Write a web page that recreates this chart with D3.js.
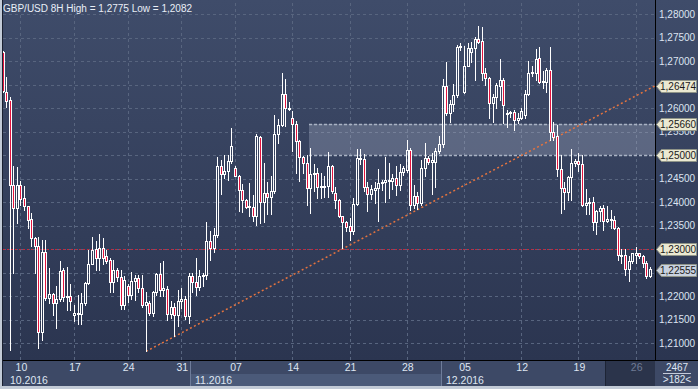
<!DOCTYPE html>
<html>
<head>
<meta charset="utf-8">
<script src="https://cdn.jsdelivr.net/npm/d3@7"></script>
<style>
  body { margin: 0; background: #2e3853; }
  svg { display: block; font-family: "Liberation Sans", Arial, sans-serif; }
</style>
</head>
<body>
<svg id="chart"></svg>
<script>
// GBP/USD 8H candles
const opens = [
  1.2720,1.2635,1.2617,1.2437,1.2387,1.2437,1.2409,1.2392,1.2364,1.2324,
  1.2306,1.2124,1.2294,1.2196,1.2205,1.2185,1.2194,1.2256,1.2198,1.2200,
  1.2160,1.2165,1.2163,1.2185,1.2228,1.2269,1.2301,1.2281,1.2302,1.2285,
  1.2277,1.2230,1.2255,1.2241,1.2181,1.2221,1.2203,1.2232,1.2239,1.2218,
  1.2181,1.2186,1.2164,1.2209,1.2248,1.2214,1.2215,1.2163,1.2177,1.2161,
  1.2189,1.2194,1.2157,1.2244,1.2230,1.2220,1.2244,1.2246,1.2318,1.2302,
  1.2331,1.2477,1.2460,1.2467,1.2487,1.2472,1.2456,1.2425,1.2404,1.2390,
  1.2390,1.2371,1.2538,1.2401,1.2420,1.2412,1.2423,1.2544,1.2564,1.2630,
  1.2600,1.2579,1.2566,1.2529,1.2496,1.2484,1.2430,1.2460,1.2462,1.2432,
  1.2435,1.2435,1.2477,1.2420,1.2405,1.2371,1.2357,1.2350,1.2338,1.2396,
  1.2493,1.2491,1.2432,1.2418,1.2425,1.2430,1.2440,1.2442,1.2447,1.2446,
  1.2451,1.2437,1.2465,1.2468,1.2511,1.2394,1.2413,1.2399,1.2472,1.2493,
  1.2486,1.2486,1.2508,1.2524,1.2647,1.2590,1.2609,1.2628,1.2729,1.2635,
  1.2690,1.2720,1.2727,1.2746,1.2743,1.2675,1.2665,1.2610,1.2624,1.2647,
  1.2660,1.2588,1.2590,1.2591,1.2575,1.2579,1.2585,1.2630,1.2675,1.2675,
  1.2706,1.2656,1.2656,1.2682,1.2550,1.2541,1.2470,1.2430,1.2421,1.2453,
  1.2484,1.2488,1.2481,1.2394,1.2399,1.2400,1.2357,1.2382,1.2388,1.2361,
  1.2364,1.2362,1.2345,1.2288,1.2288,1.2258,1.2276,1.2287,1.2292,1.2286,
  1.2270,1.2243
];
const highs = [
  1.2722,1.2667,1.2624,1.2477,1.2475,1.2446,1.2434,1.2392,1.2378,1.2327,
  1.2327,1.2320,1.2320,1.2260,1.2207,1.2221,1.2274,1.2260,1.2263,1.2226,
  1.2182,1.2203,1.2206,1.2230,1.2299,1.2327,1.2317,1.2333,1.2323,1.2299,
  1.2281,1.2277,1.2260,1.2256,1.2244,1.2225,1.2251,1.2246,1.2246,1.2246,
  1.2208,1.2189,1.2212,1.2249,1.2271,1.2274,1.2221,1.2189,1.2186,1.2214,
  1.2217,1.2200,1.2249,1.2249,1.2281,1.2256,1.2249,1.2357,1.2338,1.2345,
  1.2497,1.2490,1.2501,1.2501,1.2557,1.2476,1.2458,1.2439,1.2406,1.2440,
  1.2416,1.2545,1.2541,1.2483,1.2442,1.2456,1.2585,1.2577,1.2674,1.2661,
  1.2613,1.2594,1.2573,1.2532,1.2498,1.2501,1.2515,1.2481,1.2472,1.2463,
  1.2456,1.2506,1.2479,1.2432,1.2406,1.2371,1.2359,1.2366,1.2408,1.2513,
  1.2513,1.2503,1.2442,1.2437,1.2442,1.2470,1.2447,1.2496,1.2484,1.2460,
  1.2477,1.2481,1.2477,1.2532,1.2515,1.2437,1.2422,1.2490,1.2525,1.2498,
  1.2505,1.2515,1.2541,1.2661,1.2699,1.2617,1.2651,1.2734,1.2739,1.2731,
  1.2739,1.2741,1.2752,1.2775,1.2773,1.2685,1.2667,1.2630,1.2653,1.2704,
  1.2665,1.2596,1.2593,1.2596,1.2590,1.2600,1.2639,1.2701,1.2689,1.2725,
  1.2729,1.2678,1.2685,1.2729,1.2571,1.2564,1.2500,1.2442,1.2455,1.2513,
  1.2491,1.2504,1.2500,1.2428,1.2408,1.2412,1.2384,1.2392,1.2395,1.2392,
  1.2384,1.2370,1.2348,1.2300,1.2300,1.2285,1.2293,1.2304,1.2293,1.2288,
  1.2274,1.2262
];
const lows = [
  1.2634,1.2603,1.2086,1.2249,1.2355,1.2395,1.2384,1.2345,1.2306,1.2249,
  1.2090,1.2108,1.2193,1.2185,1.2161,1.2132,1.2189,1.2189,1.2170,1.2171,
  1.2147,1.2140,1.2140,1.2181,1.2225,1.2269,1.2256,1.2256,1.2269,1.2271,
  1.2210,1.2210,1.2232,1.2173,1.2173,1.2187,1.2194,1.2193,1.2210,1.2178,
  1.2083,1.2161,1.2157,1.2203,1.2201,1.2200,1.2150,1.2154,1.2115,1.2136,
  1.2175,1.2151,1.2143,1.2210,1.2203,1.2214,1.2221,1.2236,1.2278,1.2295,
  1.2327,1.2418,1.2451,1.2448,1.2483,1.2455,1.2382,1.2380,1.2387,1.2370,
  1.2359,1.2352,1.2356,1.2357,1.2375,1.2375,1.2419,1.2526,1.2561,1.2561,
  1.2595,1.2508,1.2463,1.2444,1.2463,1.2393,1.2378,1.2423,1.2409,1.2409,
  1.2411,1.2412,1.2419,1.2387,1.2368,1.2302,1.2338,1.2320,1.2333,1.2394,
  1.2481,1.2423,1.2382,1.2406,1.2398,1.2361,1.2426,1.2401,1.2408,1.2428,
  1.2416,1.2425,1.2458,1.2465,1.2384,1.2387,1.2385,1.2394,1.2456,1.2481,
  1.2418,1.2432,1.2504,1.2518,1.2585,1.2571,1.2593,1.2624,1.2724,1.2632,
  1.2689,1.2699,1.2660,1.2738,1.2660,1.2649,1.2578,1.2571,1.2600,1.2618,
  1.2569,1.2559,1.2581,1.2554,1.2569,1.2576,1.2578,1.2628,1.2668,1.2660,
  1.2653,1.2642,1.2635,1.2532,1.2532,1.2455,1.2377,1.2385,1.2405,1.2404,
  1.2477,1.2467,1.2392,1.2375,1.2375,1.2340,1.2333,1.2360,1.2341,1.2357,
  1.2345,1.2343,1.2278,1.2270,1.2246,1.2232,1.2270,1.2270,1.2281,1.2263,
  1.2238,1.2240
];
const closes = [
  1.2636,1.2614,1.2437,1.2387,1.2437,1.2407,1.2391,1.2362,1.2324,1.2306,
  1.2124,1.2294,1.2196,1.2205,1.2185,1.2194,1.2254,1.2198,1.2200,1.2189,
  1.2165,1.2163,1.2185,1.2228,1.2269,1.2299,1.2281,1.2302,1.2281,1.2275,
  1.2230,1.2255,1.2240,1.2181,1.2234,1.2203,1.2232,1.2239,1.2218,1.2181,
  1.2188,1.2164,1.2209,1.2248,1.2214,1.2218,1.2163,1.2177,1.2161,1.2189,
  1.2194,1.2157,1.2244,1.2230,1.2220,1.2244,1.2246,1.2318,1.2302,1.2331,
  1.2476,1.2460,1.2467,1.2487,1.2520,1.2455,1.2425,1.2404,1.2389,1.2392,
  1.2371,1.2541,1.2401,1.2420,1.2412,1.2423,1.2544,1.2564,1.2630,1.2600,
  1.2600,1.2566,1.2529,1.2496,1.2484,1.2430,1.2460,1.2462,1.2432,1.2435,
  1.2435,1.2477,1.2423,1.2405,1.2370,1.2357,1.2347,1.2338,1.2396,1.2493,
  1.2492,1.2432,1.2418,1.2428,1.2430,1.2440,1.2442,1.2447,1.2446,1.2451,
  1.2437,1.2465,1.2472,1.2511,1.2394,1.2413,1.2399,1.2472,1.2493,1.2486,
  1.2489,1.2508,1.2524,1.2647,1.2590,1.2609,1.2628,1.2729,1.2731,1.2690,
  1.2727,1.2727,1.2746,1.2741,1.2675,1.2663,1.2610,1.2624,1.2649,1.2660,
  1.2607,1.2590,1.2592,1.2575,1.2579,1.2593,1.2630,1.2675,1.2677,1.2704,
  1.2656,1.2658,1.2681,1.2550,1.2539,1.2470,1.2430,1.2421,1.2453,1.2484,
  1.2488,1.2481,1.2394,1.2399,1.2400,1.2357,1.2382,1.2388,1.2361,1.2364,
  1.2362,1.2345,1.2288,1.2285,1.2258,1.2276,1.2292,1.2292,1.2286,1.2270,
  1.2243,1.2257
];

const priceTicks = [1.21,1.215,1.22,1.225,1.23,1.235,1.24,1.245,1.25,1.255,1.26,1.265,1.27,1.275,1.28];
const weekIdx = [5,20,35,50,65,81,97,113,129,145,161,177];
const weekLabels = ['10','17','24','31','07','14','21','28','05','12','19','26'];
const monthStart = [0,53,123];
const monthLabels = ['10.2016','11.2016','12.2016'];

const zoneTop = 1.2566, zoneBottom = 1.25, zoneFrom = 86;
const redLevel = 1.23;
const trendFrom = [40, 1.2083], trendTo = [182.3, 1.26474];
const tagValues = [1.26474, 1.2566, 1.25, 1.23];
const lastPrice = 1.22555;

const W = 698, H = 389;
const plotL = 3, plotR = 655, plotT = 3, plotB = 360;
const n = closes.length;

const svg = d3.select('#chart').attr('width', W).attr('height', H);
const fmt = d => d3.format('.5f')(d).replace('.', ',');

const x = d3.scaleLinear().domain([0, n - 1]).range([3, 650.5]);
const y = d3.scaleLinear().domain([1.21, 1.28]).range([343.3, 14]);

const defs = svg.append('defs');
const grad = defs.append('linearGradient').attr('id', 'bg')
  .attr('x1', 0).attr('y1', 0).attr('x2', 0).attr('y2', 1);
grad.append('stop').attr('offset', '0%').attr('stop-color', '#3f4c6a');
grad.append('stop').attr('offset', '100%').attr('stop-color', '#2b3550');
defs.append('clipPath').attr('id', 'clip').append('rect')
  .attr('x', plotL).attr('y', plotT).attr('width', plotR - plotL).attr('height', plotB - plotT);

svg.append('rect').attr('width', W).attr('height', plotB).attr('fill', 'url(#bg)');

// grid
const grid = svg.append('g').attr('stroke', '#58657f').attr('stroke-dasharray', '3,3');
grid.selectAll('.h').data(priceTicks).join('line')
  .attr('x1', plotL).attr('x2', plotR)
  .attr('y1', d => Math.round(y(d)) + 0.5).attr('y2', d => Math.round(y(d)) + 0.5);
grid.selectAll('.v').data(weekIdx).join('line')
  .attr('y1', plotT).attr('y2', plotB)
  .attr('x1', d => Math.floor(x(d)) + 0.5).attr('x2', d => Math.floor(x(d)) + 0.5);

const plot = svg.append('g').attr('clip-path', 'url(#clip)');

// resistance zone
const zx = Math.floor(x(zoneFrom)) - 1;
plot.append('rect')
  .attr('x', zx).attr('y', Math.round(y(zoneTop)))
  .attr('width', plotR - zx).attr('height', Math.round(y(zoneBottom)) - Math.round(y(zoneTop)))
  .attr('fill', 'rgba(200,210,228,0.26)');
plot.selectAll('.zl').data([zoneTop, zoneBottom]).join('line')
  .attr('x1', zx).attr('x2', plotR)
  .attr('y1', d => Math.round(y(d)) + 0.5).attr('y2', d => Math.round(y(d)) + 0.5)
  .attr('stroke', '#a9b2c4').attr('stroke-width', 1.5).attr('stroke-dasharray', '3,2');

// 1.23 level
plot.append('line')
  .attr('x1', plotL).attr('x2', plotR)
  .attr('y1', Math.round(y(redLevel)) + 0.5).attr('y2', Math.round(y(redLevel)) + 0.5)
  .attr('stroke', '#c4283e').attr('stroke-dasharray', '2,2');

// trend line
plot.append('line')
  .attr('x1', x(trendFrom[0])).attr('y1', y(trendFrom[1]))
  .attr('x2', x(trendTo[0])).attr('y2', y(trendTo[1]))
  .attr('stroke', '#e4733f').attr('stroke-width', 1.5).attr('stroke-dasharray', '2,2.5');

// candles
const cg = plot.selectAll('.c').data(d3.range(n)).join('g');
cg.each(function (i) {
  const g = d3.select(this);
  const px = Math.floor(x(i));
  const top = Math.round(y(Math.max(opens[i], closes[i])));
  const bot = Math.max(Math.round(y(Math.min(opens[i], closes[i]))), top + 1);
  const hi = Math.round(y(highs[i])), lo = Math.round(y(lows[i]));
  const down = closes[i] < opens[i];
  if (hi < top) g.append('line').attr('x1', px + 0.5).attr('x2', px + 0.5).attr('y1', hi).attr('y2', top).attr('stroke', '#fff');
  if (lo > bot) g.append('line').attr('x1', px + 0.5).attr('x2', px + 0.5).attr('y1', bot).attr('y2', lo + 1).attr('stroke', '#fff');
  g.append('rect')
    .attr('x', px - 0.5).attr('y', top + 0.5)
    .attr('width', 2).attr('height', bot - top)
    .attr('fill', down ? '#e3143e' : 'none')
    .attr('stroke', '#fff').attr('stroke-width', 1);
});

// title
svg.append('text').attr('x', 3).attr('y', 12)
  .attr('fill', '#e9eef7').attr('font-size', 10)
  .text('GBP/USD 8H High = 1,2775 Low = 1,2082');

// right price axis; labels fully hidden under a price tag are left out
const allTags = tagValues.concat([lastPrice]);
const shownTicks = priceTicks.filter(t => allTags.every(v => Math.abs(y(t) - y(v)) > 5));
svg.append('line').attr('x1', plotR + 0.5).attr('x2', plotR + 0.5).attr('y1', 0).attr('y2', H - 3)
  .attr('stroke', '#000');
const ya = svg.append('g').attr('transform', `translate(${plotR + 1},0)`)
  .call(d3.axisRight(y).tickValues(shownTicks).tickSize(0).tickPadding(3).tickFormat(fmt));
ya.select('.domain').remove();
ya.selectAll('text').attr('fill', '#dce4f1').attr('font-size', 10)
  .attr('font-family', '"Liberation Sans", Arial, sans-serif');

// price tags
function tag(v, fill) {
  const ty = Math.round(y(v)) + 0.5;
  svg.append('path')
    .attr('d', `M${plotR + 1.5},${ty} L${plotR + 6.5},${ty - 6} L696.5,${ty - 6} L696.5,${ty + 6} L${plotR + 6.5},${ty + 6} Z`)
    .attr('fill', fill).attr('stroke', '#8f9488');
  svg.append('text').attr('x', plotR + 5).attr('y', ty + 3.6)
    .attr('font-size', 10).attr('fill', '#1a1a1a').text(fmt(v));
}
tagValues.forEach(v => tag(v, '#ebe9d2'));
tag(lastPrice, '#c9d2e0');

// time axis background
const ax = svg.append('g');
ax.append('rect').attr('x', 0).attr('y', plotB).attr('width', W).attr('height', H - plotB).attr('fill', '#3d4966');
const bounds = monthStart.map((m, k) => k === 0 ? plotL : Math.floor(x(m - 0.5)));
bounds.forEach((b, k) => {
  const e = k < bounds.length - 1 ? bounds[k + 1] : plotR;
  if (k % 2 === 1) {
    ax.append('rect').attr('x', b).attr('y', 374).attr('width', e - b).attr('height', 12).attr('fill', '#4b5a79');
  }
  if (k > 0) {
    ax.append('line').attr('x1', b + 0.5).attr('x2', b + 0.5).attr('y1', plotB).attr('y2', 386)
      .attr('stroke', '#6e7c9a');
  }
  ax.append('text').attr('x', Math.max(b, plotL) + (k === 0 ? 7 : 5)).attr('y', 383.5)
    .attr('fill', '#dfe6f2').attr('font-size', 10.5).text(monthLabels[k]);
});
const dark = Math.floor(x(168.5));
ax.append('rect').attr('x', dark).attr('y', plotB).attr('width', plotR - dark).attr('height', 26).attr('fill', '#2b344b');
ax.append('line').attr('x1', dark + 0.5).attr('x2', dark + 0.5).attr('y1', plotB).attr('y2', 386).attr('stroke', '#1d2435');

const xa = ax.append('g').attr('transform', `translate(0,${plotB})`)
  .call(d3.axisBottom(x).tickValues(weekIdx).tickSize(0).tickPadding(4).tickFormat((d, k) => weekLabels[k]));
xa.select('.domain').remove();
xa.selectAll('text').attr('font-size', 10.5)
  .attr('font-family', '"Liberation Sans", Arial, sans-serif')
  .attr('fill', (d, k) => k === weekIdx.length - 1 ? '#6f7b95' : '#dfe6f2');

svg.append('line').attr('x1', 0).attr('x2', W).attr('y1', plotB + 0.5).attr('y2', plotB + 0.5).attr('stroke', '#000');

// bar counter box
svg.append('text').attr('x', 677).attr('y', 371).attr('text-anchor', 'middle')
  .attr('fill', '#dfe6f2').attr('font-size', 10).text('2467');
svg.append('line').attr('x1', 663).attr('x2', 691).attr('y1', 373.5).attr('y2', 373.5).attr('stroke', '#c3cbda');
svg.append('text').attr('x', 677).attr('y', 383).attr('text-anchor', 'middle')
  .attr('fill', '#dfe6f2').attr('font-size', 10).text('>182<');

// frame
svg.append('rect').attr('x', 0).attr('y', 386).attr('width', W).attr('height', 3).attr('fill', '#c2cad6');
svg.append('rect').attr('x', 0).attr('y', 0).attr('width', 2).attr('height', H).attr('fill', '#c2cad6');
svg.append('line').attr('x1', 2.5).attr('x2', 2.5).attr('y1', 0).attr('y2', 386).attr('stroke', '#1a2030');
</script>
</body>
</html>
